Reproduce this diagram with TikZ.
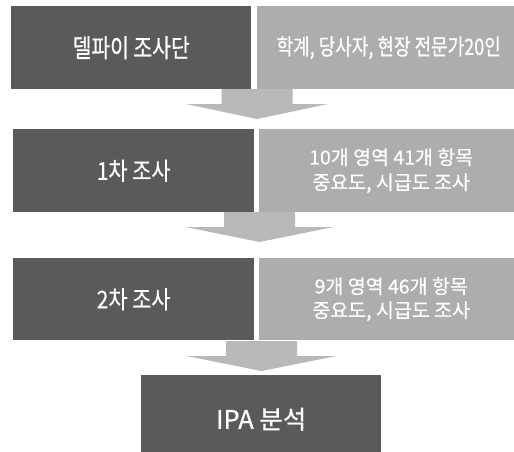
\documentclass[tikz,border=0pt]{standalone}
\usepackage{fontspec}
\setmainfont{Noto Sans CJK KR}[FakeBold=0.6]
\newfontfamily\krc[FakeStretch=0.8,FakeBold=0.6]{Noto Sans CJK KR}
\newfontfamily\krd[FakeStretch=0.85,FakeBold=0.6]{Noto Sans CJK KR}
\definecolor{darkbox}{HTML}{5A5A5C}
\definecolor{lightbox}{HTML}{ADADB0}
\definecolor{arrowgray}{HTML}{B9B9BB}
\tikzset{
  dbox/.style={fill=darkbox, text=white, inner sep=0pt, anchor=north west},
  lbox/.style={fill=lightbox, text=white, inner sep=0pt, anchor=north west, align=center},
  pics/barrow/.style={code={\fill[arrowgray] (-35.5,0) -- (35.5,0) -- (35.5,15) -- (#1,15) -- (0,30) -- (-#1,15) -- (-35.5,15) -- cycle;}}
}
\begin{document}
\begin{tikzpicture}[x=1pt,y=-1pt]
\useasboundingbox (0,0) rectangle (514,452);
% row 1
\node[dbox, minimum width=240pt, minimum height=83pt] (d1) at (11,6)
  {\krc\fontsize{25.5}{30}\selectfont 델파이 조사단};
\node[lbox, minimum width=263pt, minimum height=83pt] (l1) at (257,6)
  {\krc\fontsize{22.5}{27}\selectfont 학계, 당사자, 현장 전문가20인};
% row 2
\node[dbox, minimum width=241pt, minimum height=83pt] (d2) at (13,129)
  {\krd\fontsize{24.5}{29}\selectfont 1차 조사};
\node[lbox, minimum width=264pt, minimum height=83pt, font=\fontsize{19.5}{25}\selectfont] (l2) at (259,129)
  {10개 영역 41개 항목\\중요도, 시급도 조사};
% row 3
\node[dbox, minimum width=241pt, minimum height=82pt] (d3) at (13,258)
  {\krd\fontsize{24.5}{29}\selectfont 2차 조사};
\node[lbox, minimum width=264pt, minimum height=82pt, font=\fontsize{19.5}{24}\selectfont] (l3) at (259,258)
  {9개 영역 46개 항목\\중요도, 시급도 조사};
% final
\node[dbox, minimum width=240pt, minimum height=88pt] (ipa) at (141,375)
  {\fontsize{25.5}{30}\selectfont IPA 분석};
% block arrows
\pic at (257,89) {barrow=71};
\pic at (259.5,212) {barrow=74};
\pic at (261.5,341) {barrow=75};
\end{tikzpicture}
\end{document}
